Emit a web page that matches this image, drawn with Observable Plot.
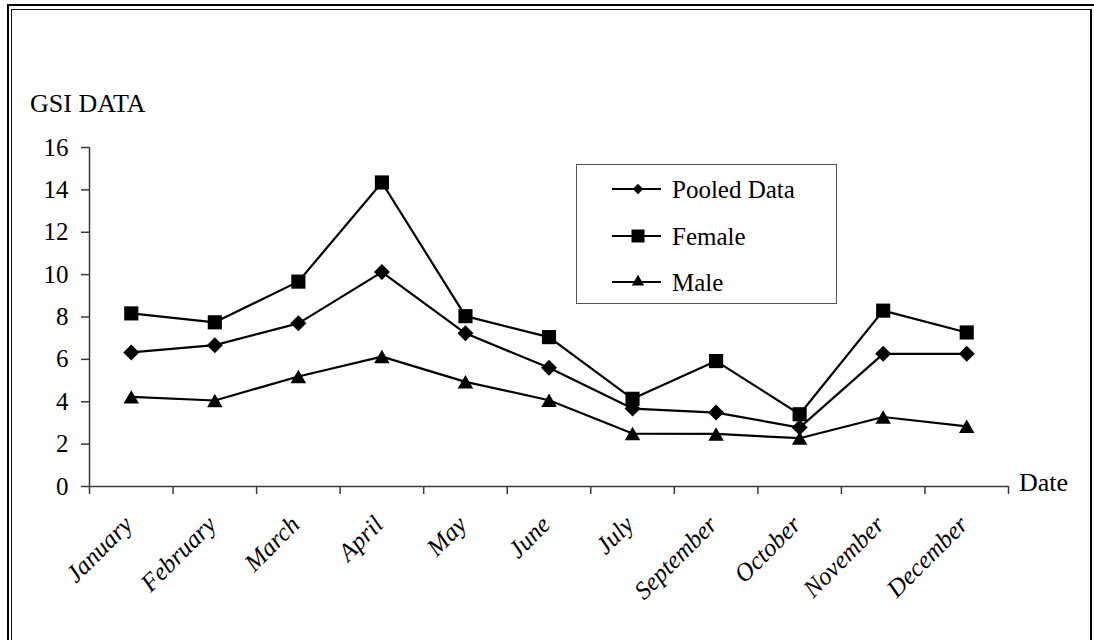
<!DOCTYPE html>
<html>
<head>
<meta charset="utf-8">
<script src="https://cdn.jsdelivr.net/npm/d3@7"></script>
<script src="https://cdn.jsdelivr.net/npm/@observablehq/plot@0.6"></script>
<style>
  body { margin: 0; background: #fff; }
  #wrap { position: relative; width: 1094px; height: 640px; overflow: hidden; font-family: "Liberation Serif", "Times New Roman", "DejaVu Serif", serif; color: #000; }
  #chart { position: absolute; left: 0; top: 0; }
  .frame-outer { position: absolute; left: 7px; top: 4px; width: 2000px; height: 2000px; border-top: 2px solid #000; border-left: 2px solid #000; pointer-events: none; }
  .frame-inner { position: absolute; left: 11px; top: 9px; width: 1078px; height: 2000px; border-top: 1.5px solid #111; border-left: 1.5px solid #111; border-right: 2.5px solid #000; pointer-events: none; }
  .lbl { position: absolute; font-size: 26px; line-height: 26px; white-space: nowrap; }
  #legend { position: absolute; left: 576px; top: 164px; width: 259px; height: 138px; border: 1px solid #555; background: #fff; }
  .row { position: absolute; left: 35px; height: 26px; display: flex; align-items: center; font-size: 25px; line-height: 25px; white-space: nowrap; }
  .row svg { display: block; margin-right: 10px; }
</style>
</head>
<body>
<div id="wrap">
  <div id="chart"></div>
  <div class="frame-outer"></div>
  <div class="frame-inner"></div>
  <div class="lbl" id="ylabel" style="left:30px; top:91px;"></div>
  <div class="lbl" id="xlabel" style="left:1019px; top:470px;"></div>
  <div id="legend"></div>
</div>
<script>
// ---- data ----
const months = ["January", "February", "March", "April", "May", "June", "July", "September", "October", "November", "December"];
const pooled = [6.33, 6.67, 7.7, 10.12, 7.23, 5.6, 3.68, 3.49, 2.78, 6.26, 6.26];
const female = [8.17, 7.75, 9.67, 14.35, 8.04, 7.05, 4.14, 5.92, 3.41, 8.3, 7.27];
const male = [4.23, 4.06, 5.19, 6.13, 4.94, 4.07, 2.5, 2.48, 2.28, 3.28, 2.84];
const seriesNames = ["Pooled Data", "Female", "Male"];
const yTicks = [0, 2, 4, 6, 8, 10, 12, 14, 16];
const yTitle = "GSI DATA";
const xTitle = "Date";

const seriesValues = [pooled, female, male];
const seriesSymbols = ["diamond2", "square2", "triangle2"];
const seriesR = [7.2, 9, 7.4];
const seriesDy = [0, 0, 2.2];

const rows = [];
seriesNames.forEach((name, s) => {
  seriesValues[s].forEach((v, i) => rows.push({series: name, month: months[i], xi: i + 0.5, value: v}));
});

const font = "Liberation Serif, Times New Roman, DejaVu Serif, serif";
const axisColor = "#3a3a3a";

const marks = [
  Plot.ruleY([0], {stroke: axisColor, strokeWidth: 1.5}),
  Plot.ruleX([0], {stroke: axisColor, strokeWidth: 1.5}),
  Plot.axisY({ticks: yTicks, tickSize: 8, tickPadding: 13, fontSize: 25, fontFamily: font, fill: "#000", stroke: axisColor, strokeWidth: 1.5, label: null, tickFormat: d => String(d)}),
  Plot.axisX({ticks: d3.range(months.length + 1), tickSize: 8, tickFormat: () => "", stroke: axisColor, strokeWidth: 1.5, label: null}),
  Plot.axisX({ticks: months.map((m, i) => i + 0.5), tickSize: 0, tickPadding: 34, tickRotate: -45, dx: -3,
    tickFormat: v => months[Math.floor(v)], fontSize: 25, fontStyle: "italic", fontFamily: font, fill: "#000", label: null}),
  Plot.line(rows, {x: "xi", y: "value", z: "series", stroke: "#000", strokeWidth: 2.2})
];
seriesNames.forEach((name, s) => {
  marks.push(Plot.dot(rows.filter(d => d.series === name), {x: "xi", y: "value", symbol: seriesSymbols[s], r: seriesR[s], dy: seriesDy[s], fill: "#000", stroke: "none"}));
});

const chart = Plot.plot({
  width: 1094,
  height: 640,
  marginLeft: 89,
  marginRight: 86,
  marginTop: 147,
  marginBottom: 154,
  x: {domain: [0, months.length], axis: null},
  y: {domain: [0, 16], axis: null},
  style: {fontFamily: font, background: "transparent", overflow: "visible"},
  marks
});
document.getElementById("chart").append(chart);

document.getElementById("ylabel").textContent = yTitle;
document.getElementById("xlabel").textContent = xTitle;

// ---- legend ----
const legend = document.getElementById("legend");
const legSizes = [70, 215, 110];
const legTypes = [d3.symbolDiamond2, d3.symbolSquare2, d3.symbolTriangle2];
const legTops = [11, 58, 104];
seriesNames.forEach((name, s) => {
  const row = document.createElement("div");
  row.className = "row";
  row.style.top = legTops[s] + "px";
  const svg = d3.create("svg").attr("width", 50).attr("height", 26);
  svg.append("line").attr("x1", 0).attr("x2", 49).attr("y1", 13).attr("y2", 13).attr("stroke", "#000").attr("stroke-width", 2.2);
  svg.append("path").attr("transform", "translate(26,13)").attr("d", d3.symbol(legTypes[s], legSizes[s])()).attr("fill", "#000");
  row.append(svg.node());
  const t = document.createElement("span");
  t.textContent = name;
  row.append(t);
  legend.append(row);
});
</script>
</body>
</html>
